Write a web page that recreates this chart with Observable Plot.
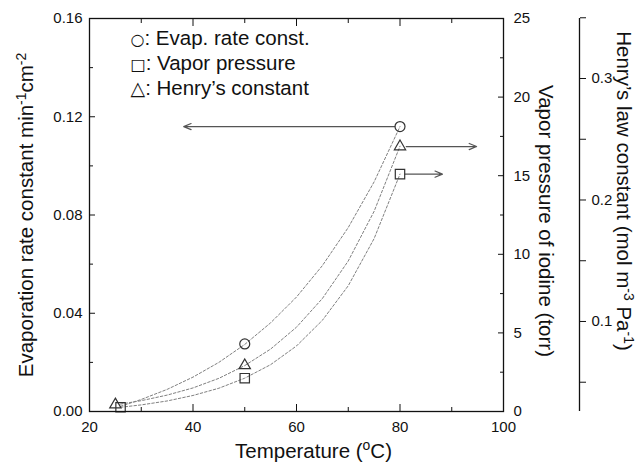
<!DOCTYPE html>
<html><head><meta charset="utf-8">
<script src="https://cdn.jsdelivr.net/npm/d3@7"></script>
<script src="https://cdn.jsdelivr.net/npm/@observablehq/plot@0.6"></script>
<style>
body{margin:0;background:#fff}
svg{font-family:"Liberation Sans",Arial,sans-serif}
</style>
</head><body><div id="chart"></div>
<script>
// ---- data ----
const evapT = [50, 80];
const evapVal = [0.0275, 0.116];            // min^-1 cm^-2 (left axis)
const vaporT = [26, 50, 80];
const vaporVal = [0.27, 2.12, 15.1];        // torr (right axis)
const henryT = [25, 50, 80];
const henryVal = [0.0315, 0.0638, 0.244];   // mol m^-3 Pa^-1 (far right axis)

const fitT = [26, 30, 35, 40, 45, 50, 55, 60, 65, 70, 75, 80];
const evapFit = [0.0021, 0.0049, 0.0090, 0.0140, 0.0200, 0.0273, 0.0361, 0.0466, 0.0594, 0.0749, 0.0935, 0.1160];
const vaporFit = [0.27, 0.42, 0.67, 1.02, 1.48, 2.12, 2.98, 4.17, 5.80, 8.0, 11.0, 15.1];
const henryFit = [0.0320, 0.0348, 0.0394, 0.0453, 0.0532, 0.0637, 0.0773, 0.0953, 0.1189, 0.1498, 0.1907, 0.2443];

const xTicks = [20, 40, 60, 80, 100];
const xMinor = [30, 50, 70, 90];
const evapTicks = [0, 0.04, 0.08, 0.12, 0.16];
const evapMinor = [0.02, 0.06, 0.10, 0.14];
const vaporTicks = [0, 5, 10, 15, 20, 25];
const vaporMinor = [2.5, 7.5, 12.5, 17.5, 22.5];
const henryTicks = [0.1, 0.2, 0.3];
const henryMinor = [0.05, 0.15, 0.25, 0.35];

const arrowSeries = ["evap", "henry", "vapor"];
const arrowFrom = [79, 81.2, 81];
const arrowTo = [38.2, 94.8, 88.2];

const legendLines = ["\u25CB: Evap. rate const.", "\u25A1: Vapor pressure", "\u25B3: Henry\u2019s constant"];
const titleX = "Temperature (^{o}C)";
const titleLeft = "Evaporation rate constant min^{-1}cm^{-2}";
const titleVapor = "Vapor pressure of iodine (torr)";
const titleHenry = "Henry\u2019s law constant (mol m^{-3} Pa^{-1})";

// ---- scales for the secondary axes (mapped onto the left axis units) ----
const yMax = 0.16, vaporMax = 25, hMin = 0.0259, hMax = 0.3494;
const yV = v => v * yMax / vaporMax;
const yH = h => (h - hMin) / (hMax - hMin) * yMax;
const vFromY = y => y * vaporMax / yMax;
const hFromY = y => y / yMax * (hMax - hMin) + hMin;

const evapRows = evapT.map((t, i) => ({t, y: evapVal[i]}));
const vaporRows = vaporT.map((t, i) => ({t, y: yV(vaporVal[i])}));
const henryRows = henryT.map((t, i) => ({t, y: yH(henryVal[i])}));
const fitRows = fitT.map((t, i) => ({t, evap: evapFit[i], vapor: yV(vaporFit[i]), henry: yH(henryFit[i])}));
const lastY = {evap: evapRows[evapRows.length-1].y, vapor: vaporRows[vaporRows.length-1].y, henry: henryRows[henryRows.length-1].y};
const arrowRows = arrowSeries.map((s, i) => ({x1: arrowFrom[i], x2: arrowTo[i], y: lastY[s]}));

const ink = "#111";
const tickFont = 15;
const titleFont = 20.5;

const plot = Plot.plot({
  width: 643, height: 471,
  marginLeft: 89, marginRight: 140, marginTop: 18, marginBottom: 60,
  x: {domain: [20, 100], axis: null},
  y: {domain: [0, yMax], axis: null},
  style: {fontFamily: '"Liberation Sans", Arial, sans-serif', fontSize: tickFont + "px", color: ink, background: "#fff"},
  marks: [
    // fitted curves
    Plot.line(fitRows, {x: "t", y: "evap", stroke: "#808080", strokeWidth: 1, strokeDasharray: "2.5,2"}),
    Plot.line(fitRows, {x: "t", y: "vapor", stroke: "#808080", strokeWidth: 1, strokeDasharray: "2.5,2"}),
    Plot.line(fitRows, {x: "t", y: "henry", stroke: "#808080", strokeWidth: 1, strokeDasharray: "2.5,2"}),
    // arrows
    Plot.arrow(arrowRows, {x1: "x1", x2: "x2", y1: "y", y2: "y", stroke: "#555", strokeWidth: 1.2, headLength: 10, headAngle: 45}),
    // points
    Plot.dot(evapRows, {x: "t", y: "y", symbol: "circle", r: 5, stroke: "#333", fill: "none", strokeWidth: 1.2}),
    Plot.dot(vaporRows, {x: "t", y: "y", symbol: "square", r: 5.3, stroke: "#333", fill: "none", strokeWidth: 1.2}),
    Plot.dot(henryRows, {x: "t", y: "y", symbol: "triangle", r: 4.2, stroke: "#333", fill: "none", strokeWidth: 1.2}),
    // frame
    Plot.frame({stroke: ink, strokeWidth: 1.3}),
    // bottom / top x axes
    Plot.axisX({anchor: "bottom", ticks: xTicks, tickSize: -7, tickPadding: 17, tickFormat: d => String(d), label: null, fontSize: tickFont, stroke: ink}),
    Plot.axisX({anchor: "bottom", ticks: xMinor, tickSize: -4, tickFormat: () => "", label: null, stroke: ink}),
    Plot.axisX({anchor: "top", ticks: xTicks, tickSize: -7, tickFormat: () => "", label: null, stroke: ink}),
    Plot.axisX({anchor: "top", ticks: xMinor, tickSize: -4, tickFormat: () => "", label: null, stroke: ink}),
    // left axis
    Plot.axisY({anchor: "left", ticks: evapTicks, tickSize: -6, tickPadding: 13, tickFormat: d3.format(".2f"), label: null, fontSize: tickFont, stroke: ink}),
    Plot.axisY({anchor: "left", ticks: evapMinor, tickSize: -4, tickFormat: () => "", label: null, stroke: ink}),
    // vapor pressure axis (right)
    Plot.axisY({anchor: "right", ticks: vaporTicks.map(yV), tickSize: -6, tickPadding: 16, tickFormat: d => String(Math.round(vFromY(d))), label: null, fontSize: tickFont, stroke: ink}),
    Plot.axisY({anchor: "right", ticks: vaporMinor.map(yV), tickSize: -4, tickFormat: () => "", label: null, stroke: ink}),
    // Henry axis (offset right)
    Plot.ruleX([100], {dx: 76, stroke: ink, strokeWidth: 1.3}),
    Plot.axisY({anchor: "right", dx: 76, ticks: henryTicks.map(yH), tickSize: 6, tickPadding: 6, tickFormat: d => hFromY(d).toFixed(1), label: null, fontSize: tickFont, stroke: ink, textAnchor: "start"}),
    Plot.axisY({anchor: "right", dx: 76, ticks: henryMinor.map(yH), tickSize: 6, tickFormat: () => "", label: null, stroke: ink}),
    // legend (one text per line)
    ...legendLines.map((line, i) => Plot.text([line], {frameAnchor: "top-left", dx: 41, dy: 12 + i * 25, textAnchor: "start", lineAnchor: "top", fontSize: titleFont, fill: ink})),
    // axis titles
    Plot.text([titleX], {frameAnchor: "bottom", dx: 17, dy: 46, textAnchor: "middle", fontSize: titleFont, fill: ink}),
    Plot.text([titleLeft], {frameAnchor: "left", dx: -63, textAnchor: "middle", rotate: -90, fontSize: titleFont, fill: ink}),
    Plot.text([titleVapor], {frameAnchor: "right", dx: 42, dy: 6, textAnchor: "middle", rotate: 90, fontSize: titleFont, fill: ink}),
    Plot.text([titleHenry], {frameAnchor: "right", dx: 120, dy: -24, textAnchor: "middle", rotate: 90, fontSize: titleFont, fill: ink})
  ]
});

const SVGNS = "http://www.w3.org/2000/svg";
const glyphSize = {"\u25CB": "16px", "\u25A1": "16px", "\u25B3": "19px"};
d3.select(plot).selectAll("text").each(function() {
  const el = this;
  if (el.querySelector("tspan")) return;
  const s = el.textContent;
  // legend glyphs
  if (glyphSize[s[0]]) {
    el.textContent = "";
    const g = document.createElementNS(SVGNS, "tspan");
    g.textContent = s[0];
    g.setAttribute("font-family", "DejaVu Sans");
    g.setAttribute("font-size", glyphSize[s[0]]);
    const r = document.createElementNS(SVGNS, "tspan");
    r.textContent = s.slice(1);
    el.appendChild(g); el.appendChild(r);
    return;
  }
  // superscripts "^{...}"
  if (!s.includes("^{")) return;
  const shift = 7.5;
  el.textContent = "";
  const parts = s.split(/(\^\{[^}]*\})/).filter(p => p.length);
  let raised = false;
  for (const p of parts) {
    const t = document.createElementNS(SVGNS, "tspan");
    if (p.startsWith("^{")) {
      t.textContent = p.slice(2, -1);
      t.setAttribute("font-size", (titleFont * 0.68) + "px");
      t.setAttribute("dy", -shift);
      raised = true;
    } else {
      t.textContent = p;
      if (raised) { t.setAttribute("dy", shift); raised = false; }
    }
    el.appendChild(t);
  }
});

document.getElementById("chart").appendChild(plot);
</script>
</body></html>
